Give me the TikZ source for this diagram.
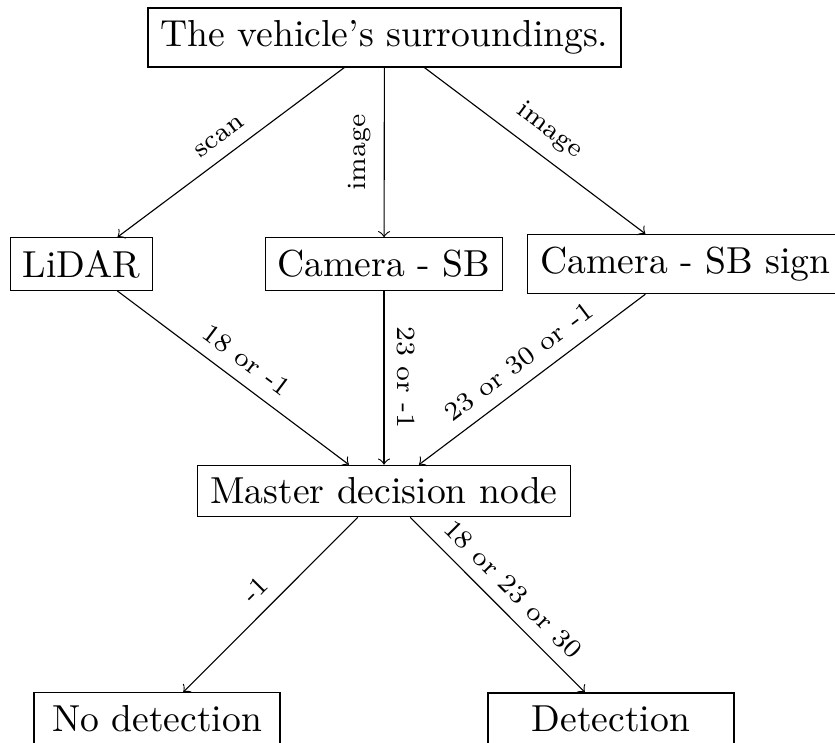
\documentclass[tikz,border=0pt]{standalone}
\begin{document}
\begin{tikzpicture}[x=0.26596pt,y=-0.26596pt,
  line width=0.3pt,
  box/.style={draw, rectangle},
  wide/.style={minimum width=65.4pt},
  lbl/.style={font=\scriptsize},
  arr/.style={->}]
\useasboundingbox (0,0) rectangle (835,742);
\node[box] (top) at (384.5,37.5) {The vehicle’s surroundings.};
\node[box] (lidar) at (81.5,264) {LiDAR};
\node[box] (camsb) at (384,264) {Camera - SB};
\node[box] (sign) at (685.5,264) {Camera - SB sign};
\node[box] (master) at (384,491) {Master decision node};
\node[box, wide] (nodet) at (157,718.5) {No detection};
\node[box, wide] (det) at (611,718.5) {Detection};
\draw[arr] (top) -- node[lbl, sloped, above] {scan} (lidar);
\draw[arr] (top) -- node[lbl, rotate=90, anchor=south] {image} (camsb);
\draw[arr] (top) -- node[lbl, sloped, above] {image} (sign);
\draw[arr] (lidar) -- node[lbl, sloped, above] {18 or -1} (master);
\draw[arr] (camsb) -- node[lbl, rotate=-90, anchor=south] {23 or -1} (master);
\draw[arr] (sign) -- node[lbl, sloped, above] {23 or 30 or -1} (master);
\draw[arr] (master) -- node[lbl, sloped, above] {-1} (nodet);
\draw[arr] (master) -- node[lbl, sloped, above] {18 or 23 or 30} (det);
\end{tikzpicture}
\end{document}
